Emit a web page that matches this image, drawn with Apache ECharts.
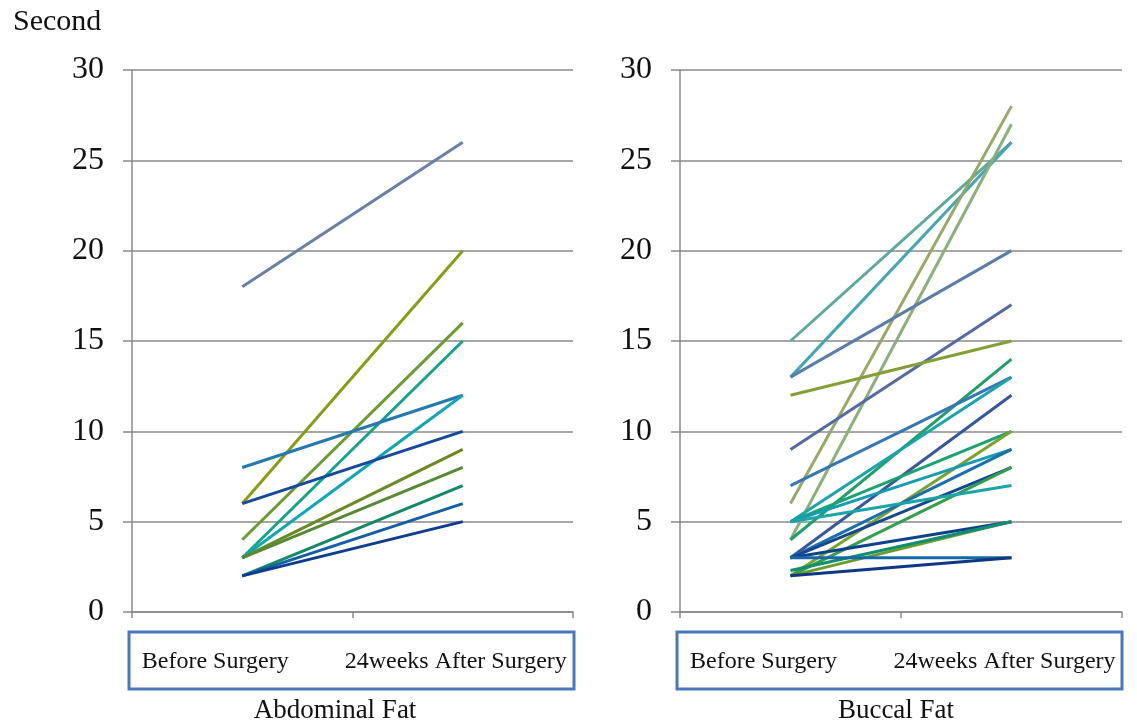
<!DOCTYPE html>
<html>
<head>
<meta charset="utf-8">
<script src="https://cdn.jsdelivr.net/npm/echarts@6/dist/echarts.min.js"></script>
<style>
  html, body { margin: 0; padding: 0; background: #fff; }
  #chart { width: 1137px; height: 724px; }
</style>
</head>
<body>
<div id="chart"></div>
<script>
// Time (seconds) per subject, before surgery and 24 weeks after surgery
const categories = ['Before Surgery', '24weeks After Surgery'];
const yTicks = [0, 5, 10, 15, 20, 25, 30];

const abdominalBefore = [18, 6, 4, 3, 8, 3, 6, 3, 3, 2, 2, 2];
const abdominalAfter  = [26, 20, 16, 15, 12, 12, 10, 9, 8, 7, 6, 5];

const buccalBefore = [15, 13, 6, 4, 13, 9, 12, 4, 7, 5, 3, 5, 2, 5, 3, 3, 2, 5, 3, 2, 2.3, 3, 2];
const buccalAfter  = [26, 26, 28, 27, 20, 17, 15, 14, 13, 13, 12, 10, 10, 9, 9, 8, 8, 7, 5, 5, 5, 3, 3];

// Line palette
const abdominalColors = ['#6a80a4', '#8a9c14', '#6a9c34', '#14a488', '#2479b0', '#10a6b4',
  '#16499e', '#6a8a22', '#568a34', '#128a68', '#145fa6', '#0f3d8e'];
const buccalColors = ['#5ea89c', '#44a6b4', '#98a866', '#8cb07a', '#5a7ea8', '#556aa4',
  '#84a034', '#229e68', '#3478b4', '#1aa4ae', '#38589e', '#1aa470', '#78a42a',
  '#149cb4', '#1a70ac', '#154894', '#349e4c', '#1aa6a6', '#0f428e', '#689e2a',
  '#128e70', '#156aa6', '#0f3884'];

const serif = '"Liberation Serif", "DejaVu Serif", serif';

function panelSeries(before, after, colors, idx) {
  return before.map((b, i) => ({
    type: 'line',
    xAxisIndex: idx,
    yAxisIndex: idx,
    data: [b, after[i]],
    symbol: 'none',
    silent: true,
    lineStyle: { color: colors[i % colors.length], width: 3 },
    z: 3
  }));
}

function xAxisFor(idx) {
  return {
    type: 'category',
    gridIndex: idx,
    data: categories,
    boundaryGap: true,
    axisLine: { lineStyle: { color: '#8a8a8a', width: 1.5 } },
    axisTick: { show: true, length: 6, alignWithLabel: false, lineStyle: { color: '#8a8a8a', width: 1.5 } },
    axisLabel: {
      interval: 0,
      hideOverlap: false,
      margin: 38,
      fontFamily: serif,
      fontSize: 24,
      color: '#111',
      formatter: (v, i) => i === 0 ? '{a|' + v + '}' : '{b|' + v + '}',
      rich: {
        a: { fontFamily: serif, fontSize: 24, color: '#111', padding: [0, 54, 0, 0] },
        b: { fontFamily: serif, fontSize: 24, color: '#111', padding: [0, 14, 0, 0] }
      }
    }
  };
}

function yAxisFor(idx) {
  return {
    type: 'value',
    gridIndex: idx,
    min: yTicks[0],
    max: yTicks[yTicks.length - 1],
    interval: yTicks[1] - yTicks[0],
    axisLine: { show: true, lineStyle: { color: '#8a8a8a', width: 1.5 } },
    axisTick: { show: true, inside: false, length: 9, lineStyle: { color: '#8a8a8a', width: 1.5 } },
    splitLine: { show: true, lineStyle: { color: '#8a8a8a', width: 1.5 } },
    axisLabel: { margin: 28, fontFamily: serif, fontSize: 32, color: '#111' }
  };
}

const chart = echarts.init(document.getElementById('chart'), null, { renderer: 'canvas' });
chart.setOption({
  animation: false,
  backgroundColor: '#fff',
  title: [
    { text: 'Second', left: 8, top: 2, textStyle: { fontFamily: serif, fontSize: 30, fontWeight: 'normal', color: '#111' } },
    { text: 'Abdominal Fat', left: 330, top: 692, textAlign: 'center',
      textStyle: { fontFamily: serif, fontSize: 27, fontWeight: 'normal', color: '#111' } },
    { text: 'Buccal Fat', left: 891, top: 692, textAlign: 'center',
      textStyle: { fontFamily: serif, fontSize: 27, fontWeight: 'normal', color: '#111' } }
  ],
  grid: [
    { left: 132, right: 564, top: 70, bottom: 112, containLabel: false },
    { left: 680, right: 15, top: 70, bottom: 112, containLabel: false }
  ],
  xAxis: [xAxisFor(0), xAxisFor(1)],
  yAxis: [yAxisFor(0), yAxisFor(1)],
  graphic: [
    { type: 'rect', shape: { x: 129, y: 632, width: 445, height: 57 },
      style: { fill: 'none', stroke: '#4a78c0', lineWidth: 3 }, silent: true },
    { type: 'rect', shape: { x: 677, y: 632, width: 445, height: 57 },
      style: { fill: 'none', stroke: '#4a78c0', lineWidth: 3 }, silent: true }
  ],
  series: [
    ...panelSeries(abdominalBefore, abdominalAfter, abdominalColors, 0),
    ...panelSeries(buccalBefore, buccalAfter, buccalColors, 1)
  ]
});
</script>
</body>
</html>
